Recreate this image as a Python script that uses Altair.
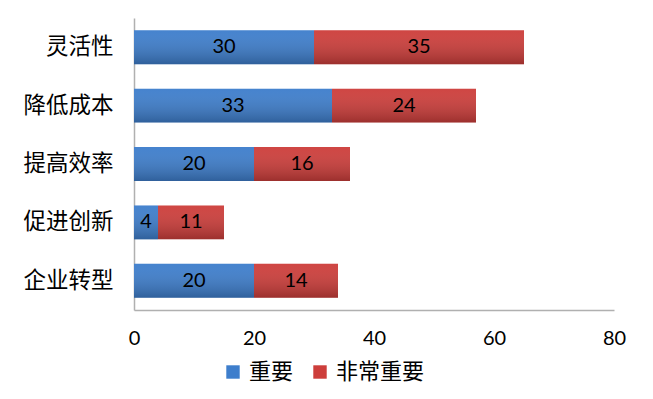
import altair as alt
import pandas as pd

categories = ["灵活性", "降低成本", "提高效率", "促进创新", "企业转型"]
important = [30, 33, 20, 4, 20]
very_important = [35, 24, 16, 11, 14]
series = ["重要", "非常重要"]
colors = ["#3e7ecc", "#cd3e3b"]

rows = []
for c, a, b in zip(categories, important, very_important):
    rows.append({"cat": c, "series": series[0], "value": a, "start": 0, "end": a})
    rows.append({"cat": c, "series": series[1], "value": b, "start": a, "end": a + b})
df = pd.DataFrame(rows)

yenc = alt.Y("cat:N", sort=categories, title=None,
             scale=alt.Scale(paddingInner=0.42, paddingOuter=0.21),
             axis=alt.Axis(labelFont="Noto Sans CJK SC", labelFontSize=22.5, labelColor="#000",
                           ticks=False, labelPadding=21, domainColor="#b0b0b0", domainWidth=1.5))
xenc = alt.X("start:Q", title=None,
             scale=alt.Scale(domain=[0, 80]),
             axis=alt.Axis(values=[0, 20, 40, 60, 80], grid=False, ticks=False, labelPadding=18,
                           labelFont="Lato", labelFontSize=20, labelColor="#000",
                           domainColor="#b0b0b0", domainWidth=1.5, labelFlush=False))

bars = alt.Chart(df).mark_bar().encode(
    y=yenc, x=xenc, x2="end:Q",
    color=alt.Color("series:N", sort=series,
                    scale=alt.Scale(domain=series, range=colors),
                    legend=alt.Legend(title=None, orient="none", direction="horizontal",
                                      legendX=88, legendY=343, symbolType="square", symbolSize=180,
                                      symbolStrokeWidth=0, labelFont="Noto Sans CJK SC",
                                      labelFontSize=22, labelColor="#000", labelOffset=5,
                                      columnPadding=15, padding=0)),
)

shade = alt.Chart(df).mark_bar(
    fill=alt.Gradient(gradient="linear", x1=0, x2=0, y1=0, y2=1,
                      stops=[alt.GradientStop(color="rgba(255,255,255,0.04)", offset=0),
                             alt.GradientStop(color="rgba(0,0,0,0.24)", offset=1)])
).encode(y=alt.Y("cat:N", sort=categories), x="start:Q", x2="end:Q")

labels = alt.Chart(df).transform_calculate(mid="(datum.start + datum.end) / 2").mark_text(
    font="Lato", fontSize=20, color="#000", baseline="middle"
).encode(y=alt.Y("cat:N", sort=categories), x="mid:Q", text="value:Q")

chart = alt.layer(bars, shade, labels).properties(
    width=480, height=292,
    autosize=alt.AutoSizeParams(type="none"),
    padding={"left": 134, "top": 18, "right": 39, "bottom": 89},
).configure_view(stroke=None)

chart.save("out.html", embed_options={"renderer": "svg", "actions": False})
